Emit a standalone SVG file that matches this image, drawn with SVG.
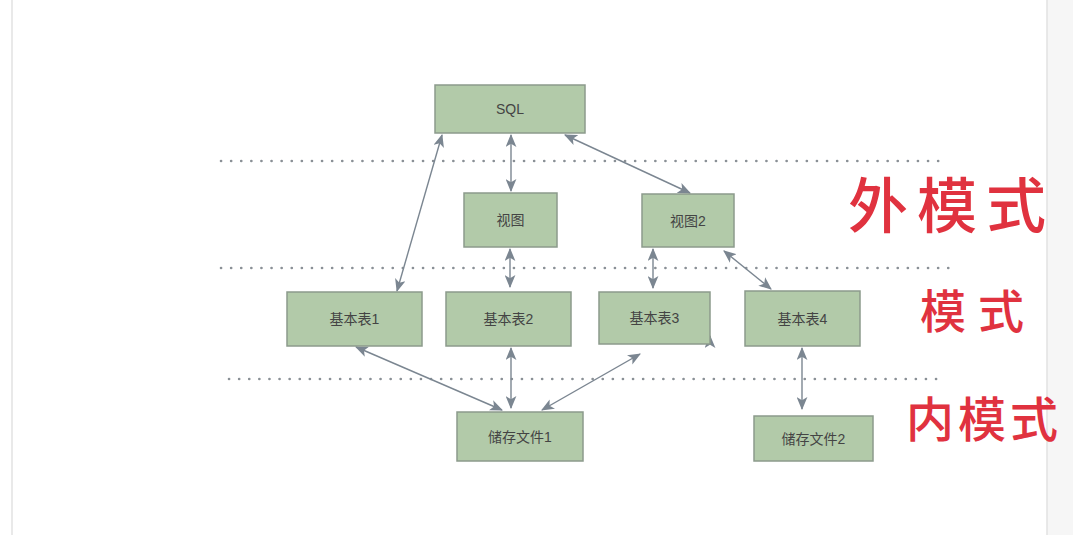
<svg xmlns="http://www.w3.org/2000/svg" width="1073" height="535" viewBox="0 0 1073 535">
<style>
.node rect{fill:#b2caa9;stroke:#8c9a8c;stroke-width:1.5}
.node text{font-family:"Liberation Sans","Noto Sans CJK SC",sans-serif;font-size:14px;fill:#444444;text-anchor:middle;dominant-baseline:central}
.dots{stroke:#8a9096;stroke-width:2.6;stroke-dasharray:0.1 10;stroke-linecap:round;fill:none}
.conn path{stroke:#7b8691;stroke-width:1.4;fill:none;marker-start:url(#ah);marker-end:url(#ah)}
.hand{font-family:"Noto Sans CJK SC",sans-serif;fill:#e0323f;font-weight:500}
</style>
<defs>
<marker id="ah" viewBox="0 0 12 10" refX="11" refY="5" markerWidth="13" markerHeight="11" markerUnits="userSpaceOnUse" orient="auto-start-reverse">
<path d="M0,0 L12,5 L0,10 L3,5 Z" fill="#7b8691"/>
</marker>
</defs>
<rect x="0" y="0" width="1073" height="535" fill="#ffffff"/>
<rect x="1047" y="0" width="26" height="535" fill="#f6f6f6"/>
<line x1="12" y1="0" x2="12" y2="535" stroke="#e2e2e2" stroke-width="1.5"/>
<line x1="1047" y1="0" x2="1047" y2="535" stroke="#e2e2e2" stroke-width="1.5"/>

<g id="separators">
<path class="dots" d="M221,161 H940"/>
<path class="dots" d="M221,268 H950"/>
<path class="dots" d="M229,379 H940"/>
</g>

<g id="connectors" class="conn">
<path d="M442,135 L397,291"/>
<path d="M511,135 L511,191"/>
<path d="M565,135 L690,193"/>
<path d="M510,249 L510,287"/>
<path d="M653,249 L653,288"/>
<path d="M724,251 L771,289"/>
<path d="M356,347 L502,410"/>
<path d="M511,348 L511,408"/>
<path d="M640,354 L542,410"/>
<path d="M802,348 L802,409"/>
<path d="M710,345 L710,336" style="marker-start:none"/>
</g>

<g id="node-sql" class="node"><rect x="435" y="85" width="150" height="48"/><text x="510" y="109">SQL</text></g>
<g id="node-view1" class="node"><rect x="464" y="193" width="93" height="54"/><text x="510.5" y="220">视图</text></g>
<g id="node-view2" class="node"><rect x="642" y="194" width="92" height="53"/><text x="688" y="220.5">视图2</text></g>
<g id="node-table1" class="node"><rect x="287" y="292" width="135" height="54"/><text x="354.5" y="319">基本表1</text></g>
<g id="node-table2" class="node"><rect x="446" y="292" width="125" height="54"/><text x="508.5" y="319">基本表2</text></g>
<g id="node-table3" class="node"><rect x="599" y="292" width="111" height="52"/><text x="654.5" y="318">基本表3</text></g>
<g id="node-table4" class="node"><rect x="745" y="291" width="115" height="55"/><text x="802.5" y="318.5">基本表4</text></g>
<g id="node-file1" class="node"><rect x="457" y="412" width="126" height="49"/><text x="520" y="436.5">储存文件1</text></g>
<g id="node-file2" class="node"><rect x="754" y="416" width="119" height="45"/><text x="813.5" y="438.5">储存文件2</text></g>

<g id="labels">
<text class="hand" x="848" y="228" font-size="60" letter-spacing="9">外模式</text>
<text class="hand" x="920" y="328" font-size="46" letter-spacing="12">模式</text>
<text class="hand" x="906" y="437" font-size="48" letter-spacing="4">内模式</text>
</g>
</svg>
